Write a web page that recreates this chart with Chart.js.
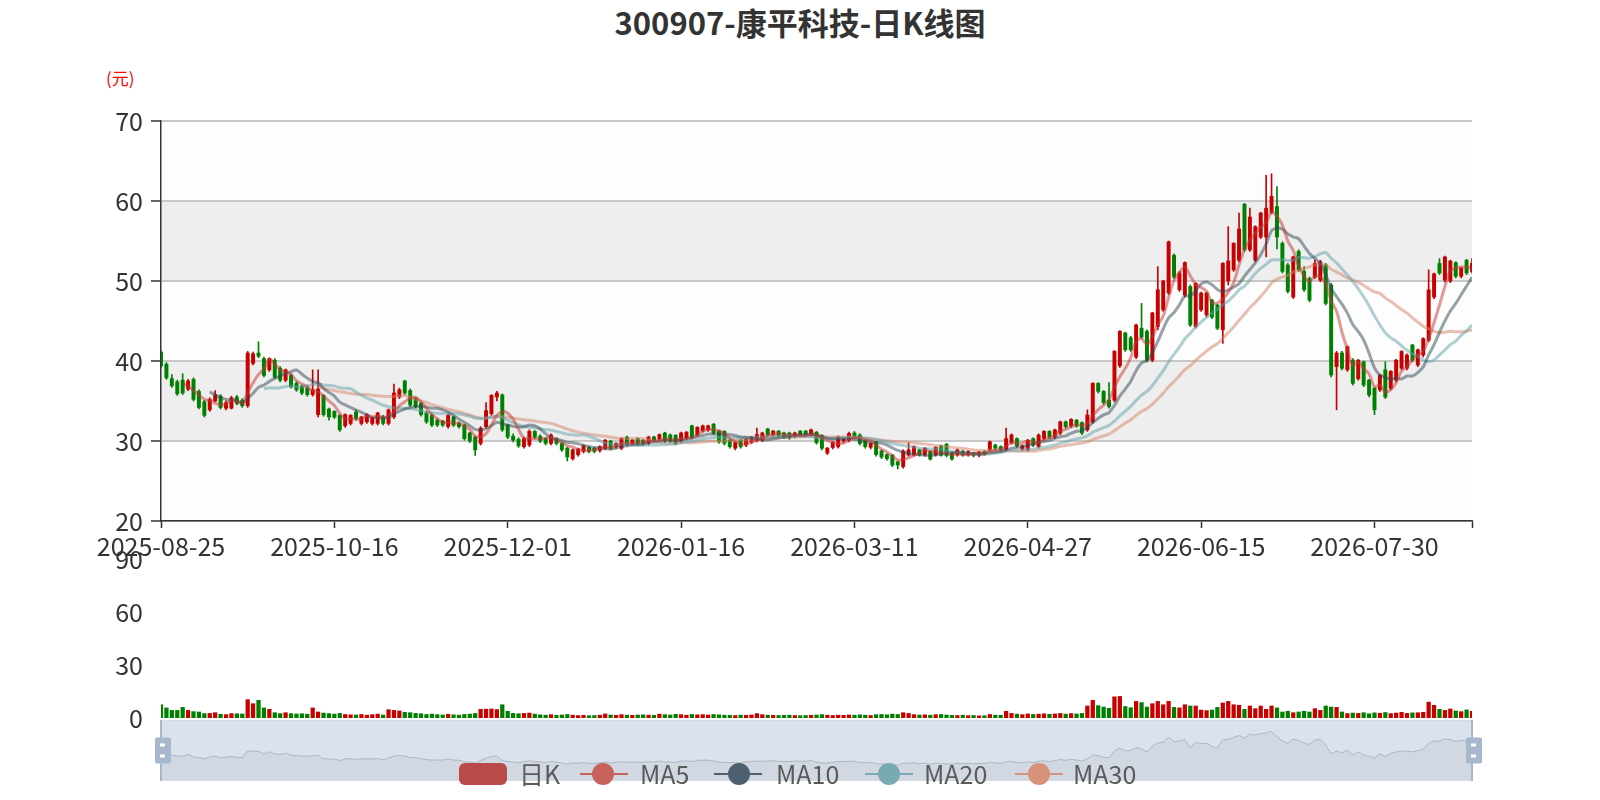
<!DOCTYPE html>
<html>
<head>
<meta charset="utf-8">
<script src="https://cdn.jsdelivr.net/npm/chart.js@4.4.1/dist/chart.umd.min.js"></script>
<style>
  body { margin: 0; background: #fff; width: 1600px; height: 800px; overflow: hidden; position: relative;
         font-family: "Noto Sans CJK SC", "Noto Sans", sans-serif; }
  canvas { position: absolute; left: 0; }
  #title { position: absolute; top: 2px; left: 0; width: 1600px; text-align: center; font-size: 31px;
           line-height: 40px; font-weight: bold; color: #333; }
  #unit { position: absolute; left: 106px; top: 67px; font-size: 17px; line-height: 22px; color: #f00; }
  .lk { position: absolute; top: 763px; width: 48px; height: 22px; border-radius: 6px; background: #b84a4a; }
  .ll { position: absolute; top: 773px; width: 48px; height: 2px; }
  .lc { position: absolute; top: 763px; width: 22px; height: 22px; border-radius: 50%; }
  .lt { position: absolute; top: 759px; font-size: 25px; line-height: 28px; color: #5a5a5a; }
</style>
</head>
<body>
<div id="title">300907-康平科技-日K线图</div>
<div id="unit">(元)</div>
<canvas id="price" width="1600" height="580" style="top:0"></canvas>
<canvas id="volume" width="1600" height="200" style="top:530px"></canvas>
<canvas id="slider" width="1600" height="70" style="top:715px"></canvas>
<div id="legend">
  <span class="lk" style="left:459px"></span><span class="lt" style="left:519px">日K</span>
  <span class="ll" style="left:580px;background:#c7625f"></span><span class="lc" style="left:592px;background:#c7625f"></span><span class="lt" style="left:640px">MA5</span>
  <span class="ll" style="left:714px;background:#4c6070"></span><span class="lc" style="left:728px;background:#4c6070"></span><span class="lt" style="left:776px">MA10</span>
  <span class="ll" style="left:865px;background:#77aab1"></span><span class="lc" style="left:878px;background:#77aab1"></span><span class="lt" style="left:924px">MA20</span>
  <span class="ll" style="left:1015px;background:#d9927a"></span><span class="lc" style="left:1028px;background:#d9927a"></span><span class="lt" style="left:1073px">MA30</span>
</div>
<script>
const tickLabels = ["2025-08-25", "2025-10-16", "2025-12-01", "2026-01-16",
                    "2026-03-11", "2026-04-27", "2026-06-15", "2026-07-30"];

const opens = [
  41.1, 39.6, 37.8, 37.4, 37.6, 36.5, 37.7, 36.2, 34.9, 33.9,
  35.0, 35.6, 34.1, 34.1, 35.5, 35.1, 34.4, 39.7, 41.0, 40.3,
  38.9, 40.1, 39.1, 37.6, 38.2, 37.2, 36.8, 36.6, 35.8, 33.3,
  35.7, 34.0, 33.7, 33.2, 31.9, 32.2, 33.6, 32.2, 32.4, 32.2,
  32.2, 33.0, 32.2, 33.0, 35.5, 37.5, 36.3, 35.3, 34.7, 33.5,
  33.2, 32.6, 32.5, 31.8, 33.0, 32.2, 32.0, 31.0, 30.5, 29.7,
  31.8, 33.4, 35.5, 35.75, 32.0, 30.6, 30.2, 29.3, 29.5, 31.2,
  30.6, 30.3, 29.7, 30.3, 29.7, 29.1, 27.8, 28.3, 28.7, 29.2,
  29.1, 28.8, 29.1, 30.0, 29.3, 29.1, 30.5, 29.7, 30.3, 30.1,
  29.7, 30.5, 30.25, 31.0, 30.75, 30.7, 30.0, 30.4, 31.9, 30.8,
  31.3, 31.4, 32.1, 31.25, 31.2, 30.1, 29.1, 30.1, 29.5, 29.9,
  30.1, 30.1, 31.5, 30.8, 31.25, 31.0, 31.0, 30.6, 31.25, 31.25,
  30.8, 31.1, 30.7, 28.5, 29.2, 29.3, 30.0, 30.1, 31.0, 30.75,
  30.1, 29.2, 29.9, 28.75, 28.3, 28.25, 27.4, 26.8, 28.25, 28.25,
  28.9, 28.25, 28.7, 28.25, 29.4, 29.6, 28.5, 28.25, 28.75, 28.25,
  28.5, 28.2, 28.7, 28.9, 29.5, 29.3, 28.9, 29.8, 30.3, 29.0,
  28.9, 30.3, 29.3, 30.3, 31.2, 30.5, 31.0, 32.4, 31.9, 32.6,
  32.3, 31.4, 32.4, 37.2, 36.2, 35.1, 35.1, 39.4, 43.5, 42.9,
  40.5, 44.1, 43.7, 40.1, 44.3, 46.4, 48.5, 53.2, 48.9, 48.25,
  49.3, 44.3, 46.4, 45.75, 47.6, 47.0, 43.9, 50.0, 51.4, 52.6,
  59.6, 53.9, 52.6, 55.5, 55.5, 58.6, 59.3, 54.7, 52.0, 48.0,
  53.7, 51.2, 50.3, 50.5, 50.1, 52.0, 49.5, 39.3, 41.0, 38.9,
  40.1, 37.8, 39.9, 37.6, 36.6, 36.4, 38.9, 36.6, 37.6, 39.1,
  39.1, 42.0, 39.5, 40.75, 42.6, 48.0, 52.2, 50.1, 50.0, 52.3,
  50.6, 52.6, 51.2
];
const closes = [
  39.4, 37.9, 36.9, 35.9, 36.0, 37.5, 35.2, 34.2, 33.2, 35.2,
  35.8, 34.2, 34.8, 35.4, 34.7, 34.4, 41.0, 40.9, 40.6, 38.2,
  40.3, 38.0, 37.6, 38.9, 36.8, 36.4, 36.0, 35.8, 36.4, 36.5,
  33.3, 33.0, 33.0, 31.4, 33.3, 33.2, 32.8, 33.0, 33.3, 32.9,
  33.5, 32.2, 33.9, 36.0, 36.4, 36.0, 34.5, 34.3, 33.3, 32.4,
  32.0, 32.0, 32.0, 33.2, 32.0, 31.8, 30.3, 30.0, 28.9, 31.6,
  33.8, 35.7, 36.0, 31.4, 30.5, 30.1, 29.4, 30.3, 31.2, 30.5,
  30.0, 29.7, 30.75, 29.7, 28.9, 28.0, 28.9, 29.0, 29.4, 28.7,
  28.7, 29.3, 30.1, 29.1, 29.7, 30.3, 29.6, 30.1, 29.7, 29.7,
  30.5, 30.1, 30.8, 30.0, 30.0, 29.7, 31.0, 31.1, 30.5, 31.7,
  31.9, 31.9, 31.0, 29.9, 29.7, 29.3, 29.8, 29.3, 30.25, 30.5,
  30.8, 31.0, 30.8, 31.25, 30.7, 30.5, 30.4, 31.0, 30.75, 30.8,
  31.4, 29.8, 29.1, 29.1, 29.8, 30.5, 30.25, 30.95, 30.5, 29.7,
  29.3, 29.7, 28.3, 28.0, 27.8, 27.0, 27.0, 28.75, 28.9, 29.3,
  28.25, 29.1, 27.75, 29.2, 28.25, 28.2, 27.75, 28.9, 28.25, 28.7,
  28.2, 28.6, 28.4, 29.9, 29.1, 28.9, 30.3, 30.75, 29.4, 29.4,
  30.1, 29.5, 30.75, 31.2, 30.5, 31.4, 32.4, 31.8, 32.7, 31.9,
  31.0, 33.25, 37.2, 36.2, 34.8, 34.3, 41.2, 43.7, 41.4, 41.4,
  44.5, 43.0, 40.1, 46.0, 48.9, 50.0, 54.9, 50.5, 51.0, 52.3,
  44.5, 49.7, 48.5, 48.5, 45.5, 44.1, 52.2, 52.5, 54.7, 56.5,
  53.9, 58.0, 56.8, 58.5, 59.1, 60.6, 55.5, 51.2, 48.7, 53.0,
  51.4, 48.9, 47.6, 52.2, 52.4, 47.2, 38.25, 41.0, 39.1, 41.8,
  37.2, 40.1, 37.0, 35.75, 33.9, 38.25, 35.5, 38.7, 40.1, 41.2,
  40.75, 40.1, 41.4, 42.8, 48.9, 50.9, 51.0, 53.0, 52.5, 50.6,
  51.6, 51.0, 52.2
];
const highs = [
  41.3, 39.8, 38.3, 37.6, 38.4, 37.7, 37.9, 36.4, 35.1, 35.4,
  36.3, 35.8, 35.0, 35.6, 35.7, 35.3, 41.2, 41.1, 42.4, 40.5,
  40.4, 40.3, 39.3, 39.0, 38.4, 37.4, 37.0, 36.8, 38.9, 38.9,
  35.8, 34.1, 33.8, 33.3, 33.4, 33.3, 33.9, 33.1, 33.4, 33.0,
  33.6, 33.2, 34.0, 37.1, 36.6, 37.6, 36.5, 35.5, 34.9, 33.7,
  33.4, 32.8, 32.6, 33.3, 33.1, 32.4, 32.1, 31.1, 30.6, 31.8,
  34.8, 35.8, 36.2, 35.9, 32.1, 30.9, 30.4, 30.5, 31.4, 31.3,
  30.8, 30.4, 30.9, 30.4, 29.8, 29.2, 29.0, 29.1, 29.5, 29.3,
  29.2, 29.4, 30.2, 30.1, 29.8, 30.4, 30.6, 30.2, 30.4, 30.2,
  30.6, 30.6, 30.9, 31.1, 30.9, 30.8, 31.1, 31.2, 32.0, 31.8,
  32.0, 32.0, 32.2, 31.3, 31.3, 30.2, 29.9, 30.2, 30.3, 30.6,
  31.6, 31.1, 31.6, 31.3, 31.3, 31.1, 31.1, 31.1, 31.3, 31.3,
  31.5, 31.2, 30.8, 29.2, 29.9, 30.6, 30.4, 31.1, 31.2, 30.9,
  30.2, 29.8, 30.0, 28.9, 28.4, 28.3, 27.5, 28.9, 29.8, 29.4,
  29.0, 29.2, 28.8, 29.3, 29.5, 29.7, 28.6, 29.0, 28.8, 28.8,
  28.6, 28.7, 28.8, 30.0, 29.6, 29.4, 31.6, 30.9, 30.4, 29.5,
  30.2, 30.4, 30.9, 31.3, 31.3, 31.5, 32.5, 32.5, 32.8, 32.7,
  32.4, 33.9, 37.3, 37.3, 36.3, 37.3, 41.3, 43.8, 43.6, 43.1,
  44.6, 47.2, 43.9, 46.1, 51.8, 50.1, 55.0, 53.4, 51.2, 52.4,
  49.5, 49.8, 48.6, 48.6, 47.7, 47.1, 52.3, 56.8, 54.8, 58.5,
  59.7, 59.1, 56.9, 58.6, 63.2, 63.4, 61.8, 54.9, 52.2, 53.1,
  53.9, 51.8, 50.5, 52.6, 52.6, 52.2, 49.7, 41.2, 41.2, 41.9,
  40.3, 40.2, 40.0, 37.7, 36.7, 38.3, 39.9, 38.8, 40.2, 41.3,
  40.9, 42.1, 41.5, 42.9, 51.4, 51.0, 52.8, 53.1, 52.6, 52.4,
  51.7, 52.7, 52.8
];
const lows = [
  39.2, 37.7, 36.7, 35.7, 35.8, 36.3, 35.0, 34.0, 33.0, 33.7,
  34.9, 34.0, 33.9, 34.0, 34.5, 34.2, 34.2, 39.5, 40.4, 38.0,
  38.7, 37.8, 37.4, 37.4, 36.6, 36.2, 35.8, 35.6, 35.6, 33.0,
  33.1, 32.6, 32.8, 31.2, 31.7, 32.0, 32.6, 32.0, 32.2, 32.0,
  32.0, 32.0, 32.0, 32.8, 35.3, 35.8, 34.3, 34.1, 33.1, 32.2,
  31.8, 31.8, 31.8, 31.6, 31.8, 31.6, 30.1, 29.8, 28.2, 29.5,
  31.6, 33.2, 35.0, 31.2, 30.3, 29.9, 29.2, 29.1, 29.3, 30.3,
  29.8, 29.5, 29.5, 29.5, 28.7, 27.5, 27.6, 28.1, 28.5, 28.5,
  28.5, 28.6, 28.9, 28.9, 29.1, 28.9, 29.4, 29.5, 29.5, 29.5,
  29.5, 29.9, 30.1, 29.8, 29.8, 29.5, 29.8, 30.2, 30.3, 30.6,
  31.1, 31.2, 30.8, 29.7, 29.5, 29.1, 28.9, 29.1, 29.3, 29.7,
  29.9, 29.9, 30.6, 30.6, 30.5, 30.3, 30.2, 30.4, 30.6, 30.6,
  30.6, 29.6, 28.9, 28.3, 29.0, 29.1, 29.8, 29.9, 30.3, 29.5,
  29.1, 29.0, 28.1, 27.8, 27.6, 26.8, 26.5, 26.6, 28.1, 28.1,
  28.1, 28.1, 27.6, 28.1, 28.1, 28.0, 27.6, 28.1, 28.1, 28.1,
  28.0, 28.0, 28.2, 28.7, 28.9, 28.7, 28.7, 29.6, 29.2, 28.8,
  28.7, 29.3, 29.1, 30.1, 30.3, 30.3, 30.8, 31.6, 31.7, 31.7,
  30.8, 31.2, 32.2, 36.0, 34.6, 34.1, 34.9, 39.2, 41.2, 41.2,
  40.3, 42.8, 39.9, 39.9, 43.9, 46.2, 48.3, 50.3, 48.7, 48.0,
  44.3, 44.1, 46.2, 45.5, 45.3, 43.9, 42.2, 49.5, 51.2, 52.4,
  53.7, 53.7, 52.4, 55.3, 53.0, 58.4, 54.0, 51.0, 48.5, 47.8,
  51.2, 48.7, 47.4, 50.3, 49.9, 47.0, 38.0, 33.9, 38.9, 38.7,
  37.0, 37.6, 36.8, 35.5, 33.3, 36.2, 35.3, 36.4, 37.4, 38.9,
  38.9, 39.9, 39.3, 40.5, 42.4, 47.8, 50.8, 49.9, 49.8, 50.4,
  50.4, 50.8, 51.0
];
const volumes = [
  7.5, 5.7, 4.3, 4.3, 6.0, 4.3, 3.6, 3.4, 2.5, 2.6,
  3.0, 2.1, 1.9, 2.5, 2.4, 2.3, 10.4, 8.1, 10.0, 5.7,
  4.9, 3.0, 2.5, 3.0, 2.5, 2.3, 2.4, 2.2, 5.7, 3.4,
  2.8, 2.5, 2.2, 2.6, 2.0, 1.8, 1.7, 2.0, 1.6, 1.9,
  2.2, 1.7, 4.7, 4.3, 4.0, 3.2, 3.0, 2.6, 2.4, 2.0,
  2.2, 1.9, 1.7, 2.1, 1.8, 1.6, 2.0, 2.2, 2.6, 4.9,
  5.0, 5.1, 4.8, 7.5, 3.8, 2.6, 2.4, 2.6, 2.8, 2.2,
  1.8, 1.6, 1.9, 1.5, 1.7, 2.0, 1.6, 1.4, 1.5, 1.3,
  1.4, 1.6, 2.3, 1.7, 1.5, 1.9, 1.6, 1.5, 1.7, 1.8,
  1.6, 1.5, 2.2, 1.9, 1.7, 2.1, 1.9, 1.6, 2.0, 1.8,
  1.9, 1.7, 2.0, 1.8, 1.6, 1.5, 1.4, 1.6, 1.5, 1.7,
  2.5, 1.9, 1.6, 1.5, 1.4, 1.5, 1.6, 1.4, 1.3, 1.4,
  1.5, 1.7, 1.9, 1.6, 1.4, 1.6, 1.5, 1.7, 1.6, 1.8,
  1.6, 1.4, 1.9, 2.0, 1.8, 2.2, 2.0, 3.0, 2.6, 1.9,
  1.7, 1.8, 1.6, 1.9, 2.0, 1.7, 1.5, 1.4, 1.6, 1.3,
  1.4, 1.2, 1.3, 2.0, 1.6, 1.5, 3.8, 2.6, 2.2, 1.9,
  2.3, 2.0, 2.2, 2.4, 2.1, 2.3, 2.6, 2.2, 2.5, 2.3,
  2.6, 6.8, 10.0, 7.0, 6.2, 5.5, 12.0, 12.2, 6.5, 5.8,
  9.4, 8.7, 6.2, 8.1, 9.4, 7.5, 9.4, 6.0, 5.7, 7.5,
  6.8, 6.8, 4.5, 4.2, 4.5, 6.0, 8.5, 9.4, 7.5, 7.2,
  4.9, 6.8, 5.3, 6.8, 4.9, 6.8, 5.7, 3.4, 3.8, 3.0,
  3.4, 3.8, 3.4, 5.3, 4.3, 6.8, 6.2, 6.0, 3.4, 2.5,
  2.8, 2.6, 3.0, 2.4, 2.9, 2.7, 3.1, 2.5, 2.8, 3.2,
  2.6, 2.9, 3.0, 3.2, 9.0, 7.2, 4.9, 4.3, 5.1, 4.0,
  3.6, 4.6, 3.8
];

const N = closes.length;
const LAST = N - 1;
const UP = "#c80000";
const DOWN = "#008000";
const FONT = '"Noto Sans CJK SC", "Noto Sans", sans-serif';
Chart.defaults.font.family = FONT;

const idx = closes.map((_, i) => i);
const candleColor = idx.map(i => closes[i] >= opens[i] ? UP : DOWN);

function movingAverage(n) {
  return idx.map(i => {
    if (i < n - 1) return { x: i, y: null };
    let sum = 0;
    for (let k = i - n + 1; k <= i; k++) sum += closes[k];
    return { x: i, y: sum / n };
  });
}

function maLine(label, n, color) {
  return {
    type: "line", label: label, data: movingAverage(n),
    borderColor: color, borderWidth: 3, pointRadius: 0, tension: 0.35, order: 0
  };
}

// grey / white bands behind the price grid
const splitArea = {
  id: "splitArea",
  beforeDraw(chart) {
    const { ctx, chartArea: a, scales: { y } } = chart;
    const bands = [[20, 30, "#fdfdfd"], [30, 40, "#eeeeee"], [40, 50, "#fdfdfd"], [50, 60, "#eeeeee"], [60, 70, "#fdfdfd"]];
    ctx.save();
    bands.forEach(([lo, hi, c]) => {
      const top = y.getPixelForValue(hi);
      ctx.fillStyle = c;
      ctx.fillRect(a.left, top, a.right - a.left, y.getPixelForValue(lo) - top);
    });
    ctx.restore();
  }
};

new Chart(document.getElementById("price"), {
  type: "bar",
  data: {
    datasets: [
      maLine("MA5", 5, "rgba(194,53,49,0.5)"),
      maLine("MA10", 10, "rgba(47,69,84,0.5)"),
      maLine("MA20", 20, "rgba(97,160,168,0.5)"),
      maLine("MA30", 30, "rgba(212,130,101,0.5)"),
      {
        label: "日K", data: idx.map(i => ({ x: i, y: [opens[i], closes[i]] })),
        backgroundColor: candleColor, barThickness: 3.3, grouped: false, order: 1
      },
      {
        label: "wick", data: idx.map(i => ({ x: i, y: [lows[i], highs[i]] })),
        backgroundColor: candleColor, barThickness: 1, grouped: false, order: 2
      }
    ]
  },
  options: {
    responsive: false, animation: false, devicePixelRatio: 1,
    layout: { padding: { left: 0, right: 128, top: 121, bottom: 0 } },
    plugins: { legend: { display: false }, tooltip: { enabled: false } },
    scales: {
      x: {
        type: "linear", min: 0, max: LAST, offset: false,
        afterBuildTicks: s => { s.ticks = tickLabels.map((_, k) => ({ value: k * 32 })).concat([{ value: LAST }]); },
        afterFit: s => { s.height = 59; },
        ticks: {
          autoSkip: false, maxRotation: 0, minRotation: 0, padding: 3, color: "#333",
          font: { size: 25 },
          callback: v => (v % 32 === 0 && tickLabels[v / 32]) ? tickLabels[v / 32] : ""
        },
        grid: { display: true, offset: false, drawOnChartArea: false, drawTicks: true, tickLength: 7, tickColor: "#333", tickWidth: 1.5 },
        border: { display: true, color: "#333", width: 1.5 }
      },
      y: {
        min: 20, max: 70,
        afterFit: s => { s.width = 161; },
        ticks: { stepSize: 10, padding: 8, color: "#333", font: { size: 25 } },
        grid: { color: "#c8c8c8", lineWidth: 2, drawTicks: true, tickLength: 10, tickColor: "#333", tickWidth: 1.5 },
        border: { display: true, color: "#333", width: 1.5 }
      }
    }
  },
  plugins: [splitArea]
});

new Chart(document.getElementById("volume"), {
  type: "bar",
  data: {
    datasets: [{
      label: "成交量", data: idx.map(i => ({ x: i, y: volumes[i] })),
      backgroundColor: candleColor, barThickness: 3.6, grouped: false
    }]
  },
  options: {
    responsive: false, animation: false, devicePixelRatio: 1,
    layout: { padding: { left: 0, right: 128, top: 29, bottom: 12 } },
    plugins: { legend: { display: false }, tooltip: { enabled: false } },
    scales: {
      x: { type: "linear", min: 0, max: LAST, offset: false, display: false },
      y: {
        min: 0, max: 90,
        afterFit: s => { s.width = 161; s.paddingTop = 0; s.paddingBottom = 0; },
        ticks: { stepSize: 30, padding: 18, color: "#333", font: { size: 25 } },
        grid: { display: false, drawTicks: false },
        border: { display: false }
      }
    }
  }
});

// data-zoom look: filler over the whole range plus the two handles
const sliderDecor = {
  id: "sliderDecor",
  afterDatasetsDraw(chart) {
    const { ctx, chartArea: a } = chart;
    const h = a.bottom - a.top;
    const mid = (a.top + a.bottom) / 2;
    ctx.save();
    ctx.fillStyle = "rgba(167,183,204,0.4)";
    ctx.fillRect(a.left, a.top, a.right - a.left, h);
    ctx.strokeStyle = "#d2dbe6";
    ctx.lineWidth = 1;
    ctx.strokeRect(a.left + 0.5, a.top + 0.5, a.right - a.left - 1, h - 1);
    [a.left, a.right].forEach(x => {
      ctx.fillStyle = "#a7b7cc";
      ctx.fillRect(x - 1, a.top, 2, h);
      ctx.beginPath();
      ctx.roundRect(x - 6, mid - 13, 16, 26, 2);
      ctx.fill();
      ctx.fillStyle = "#fff";
      ctx.fillRect(x - 1, mid - 7, 5, 3);
      ctx.fillRect(x - 1, mid + 4, 5, 3);
    });
    ctx.restore();
  }
};

new Chart(document.getElementById("slider"), {
  type: "line",
  data: {
    datasets: [{
      label: "shadow", data: idx.map(i => ({ x: i, y: closes[i] })),
      borderColor: "rgba(47,69,84,0.35)", borderWidth: 1, pointRadius: 0,
      fill: "start", backgroundColor: "rgba(47,69,84,0.09)", tension: 0
    }]
  },
  options: {
    responsive: false, animation: false, devicePixelRatio: 1,
    layout: { padding: { left: 161, right: 128, top: 5, bottom: 4 } },
    plugins: { legend: { display: false }, tooltip: { enabled: false } },
    scales: {
      x: { type: "linear", min: 0, max: LAST, display: false },
      y: { min: 11, max: 72, display: false }
    }
  },
  plugins: [sliderDecor]
});
</script>
</body>
</html>
